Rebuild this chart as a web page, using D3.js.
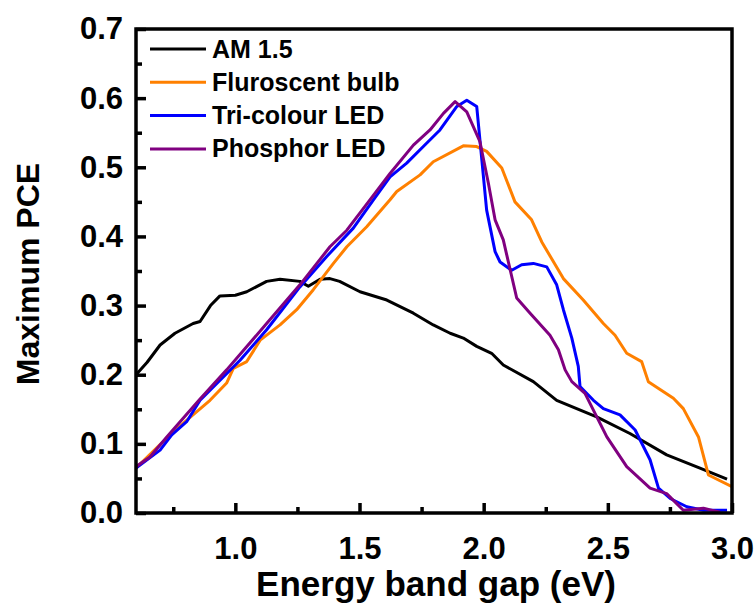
<!DOCTYPE html>
<html>
<head>
<meta charset="utf-8">
<script src="https://cdn.jsdelivr.net/npm/d3@7/dist/d3.min.js"></script>
<style>
  html, body { margin: 0; padding: 0; background: #fff; }
  svg { display: block; }
  text { font-family: "Liberation Sans", Arial, sans-serif; font-weight: bold; fill: #000; }
</style>
</head>
<body>
<svg id="chart" width="756" height="605"></svg>
<script>
// ---- Data ----
const seriesNames = ["AM 1.5", "Fluroscent bulb", "Tri-colour LED", "Phosphor LED"];
const seriesColors = ["#000000", "#FF8000", "#0000FF", "#800080"];

const am15 = [
  [0.60, 0.200], [0.645, 0.218], [0.697, 0.243], [0.757, 0.260], [0.830, 0.274], [0.858, 0.277],
  [0.90, 0.300], [0.938, 0.314], [1.00, 0.315], [1.046, 0.320], [1.126, 0.335], [1.18, 0.338],
  [1.26, 0.335], [1.294, 0.328], [1.341, 0.338], [1.381, 0.339], [1.42, 0.335], [1.502, 0.320],
  [1.61, 0.308], [1.717, 0.289], [1.797, 0.272], [1.865, 0.260], [1.918, 0.253], [1.972, 0.241],
  [2.032, 0.231], [2.079, 0.214], [2.20, 0.190], [2.294, 0.163], [2.455, 0.139], [2.589, 0.115],
  [2.737, 0.084], [2.871, 0.065], [2.98, 0.049]
];
const fluorescent = [
  [0.60, 0.065], [0.70, 0.100], [0.80, 0.133], [0.898, 0.163], [0.965, 0.188], [0.992, 0.209],
  [1.046, 0.219], [1.10, 0.250], [1.18, 0.272], [1.247, 0.294], [1.314, 0.323], [1.395, 0.361],
  [1.449, 0.385], [1.529, 0.414], [1.623, 0.453], [1.65, 0.465], [1.744, 0.489], [1.797, 0.508],
  [1.918, 0.531], [1.972, 0.530], [2.012, 0.523], [2.073, 0.499], [2.126, 0.450], [2.193, 0.424],
  [2.234, 0.392], [2.321, 0.339], [2.401, 0.308], [2.482, 0.274], [2.529, 0.257], [2.576, 0.231],
  [2.636, 0.219], [2.663, 0.190], [2.764, 0.166], [2.804, 0.151], [2.865, 0.110], [2.905, 0.055],
  [3.00, 0.038]
];
const tricolour = [
  [0.60, 0.065], [0.697, 0.091], [0.744, 0.113], [0.804, 0.132], [0.858, 0.163], [1.019, 0.221],
  [1.126, 0.265], [1.26, 0.327], [1.368, 0.371], [1.475, 0.412], [1.556, 0.453], [1.623, 0.486],
  [1.69, 0.506], [1.757, 0.530], [1.824, 0.554], [1.892, 0.588], [1.932, 0.597], [1.972, 0.588],
  [2.012, 0.438], [2.046, 0.378], [2.066, 0.363], [2.113, 0.351], [2.153, 0.359], [2.20, 0.361],
  [2.254, 0.356], [2.294, 0.330], [2.321, 0.294], [2.355, 0.253], [2.381, 0.212], [2.388, 0.183],
  [2.442, 0.163], [2.482, 0.151], [2.549, 0.142], [2.61, 0.120], [2.67, 0.077], [2.704, 0.036],
  [2.751, 0.021], [2.818, 0.009], [2.885, 0.004], [2.98, 0.004]
];
const phosphor = [
  [0.60, 0.067], [0.656, 0.081], [0.724, 0.110], [0.79, 0.137], [0.858, 0.165], [0.965, 0.207],
  [1.126, 0.274], [1.26, 0.330], [1.381, 0.385], [1.449, 0.409], [1.542, 0.453], [1.623, 0.491],
  [1.717, 0.532], [1.784, 0.554], [1.838, 0.578], [1.885, 0.595], [1.932, 0.580], [1.985, 0.537],
  [2.019, 0.477], [2.046, 0.424], [2.079, 0.395], [2.113, 0.342], [2.133, 0.311], [2.187, 0.289],
  [2.267, 0.257], [2.301, 0.236], [2.328, 0.207], [2.355, 0.190], [2.408, 0.173], [2.496, 0.110],
  [2.576, 0.067], [2.67, 0.036], [2.737, 0.028], [2.804, 0.004], [2.885, 0.007], [2.952, 0.001]
];
const allSeries = [am15, fluorescent, tricolour, phosphor];

const xTicks = [1.0, 1.5, 2.0, 2.5, 3.0];
const xMinorTicks = [0.75, 1.25, 1.75, 2.25, 2.75];
const yTicks = [0.0, 0.1, 0.2, 0.3, 0.4, 0.5, 0.6, 0.7];
const yMinorTicks = [0.05, 0.15, 0.25, 0.35, 0.45, 0.55, 0.65];

// ---- Layout ----
const svg = d3.select("#chart");
const pLeft = 136, pRight = 732, pTop = 29, pBottom = 513;

const x = d3.scaleLinear().domain([0.6, 3.0]).range([pLeft, pRight]);
const y = d3.scaleLinear().domain([0.0, 0.7]).range([pBottom, pTop]);

// clip
svg.append("defs").append("clipPath").attr("id", "clip")
  .append("rect").attr("x", pLeft).attr("y", pTop).attr("width", pRight - pLeft).attr("height", pBottom - pTop);

// series lines
const line = d3.line().x(d => x(d[0])).y(d => y(d[1]));
const plot = svg.append("g").attr("clip-path", "url(#clip)");
allSeries.forEach((s, i) => {
  plot.append("path").datum(s)
    .attr("d", line)
    .attr("fill", "none")
    .attr("stroke", seriesColors[i])
    .attr("stroke-width", 3)
    .attr("stroke-linejoin", "round");
});

// frame
svg.append("rect")
  .attr("x", pLeft).attr("y", pTop).attr("width", pRight - pLeft).attr("height", pBottom - pTop)
  .attr("fill", "none").attr("stroke", "#000").attr("stroke-width", 3.5);

// x axis (inward ticks)
const xAxis = svg.append("g").attr("transform", `translate(0,${pBottom})`)
  .call(d3.axisBottom(x).tickValues(xTicks).tickSize(-10).tickPadding(24).tickFormat(d3.format(".1f")));
xAxis.select(".domain").remove();
xAxis.selectAll(".tick line").attr("stroke", "#000").attr("stroke-width", 3.5);
xAxis.selectAll(".tick text").attr("font-size", 31).attr("font-family", "Liberation Sans, Arial, sans-serif").attr("font-weight", "bold").attr("fill", "#000");
const xMinor = svg.append("g").attr("transform", `translate(0,${pBottom})`)
  .call(d3.axisBottom(x).tickValues(xMinorTicks).tickSize(-6).tickFormat(""));
xMinor.select(".domain").remove();
xMinor.selectAll(".tick line").attr("stroke", "#000").attr("stroke-width", 3.5);

// y axis
const yAxis = svg.append("g").attr("transform", `translate(${pLeft},0)`)
  .call(d3.axisLeft(y).tickValues(yTicks).tickSize(-10).tickPadding(13).tickFormat(d3.format(".1f")));
yAxis.select(".domain").remove();
yAxis.selectAll(".tick line").attr("stroke", "#000").attr("stroke-width", 3.5);
yAxis.selectAll(".tick text").attr("font-size", 31).attr("font-family", "Liberation Sans, Arial, sans-serif").attr("font-weight", "bold").attr("fill", "#000");
const yMinor = svg.append("g").attr("transform", `translate(${pLeft},0)`)
  .call(d3.axisLeft(y).tickValues(yMinorTicks).tickSize(-6).tickFormat(""));
yMinor.select(".domain").remove();
yMinor.selectAll(".tick line").attr("stroke", "#000").attr("stroke-width", 3.5);

// axis titles
svg.append("text")
  .attr("x", (pLeft + pRight) / 2 + 2).attr("y", 596)
  .attr("text-anchor", "middle").attr("font-size", 35)
  .text("Energy band gap (eV)");
svg.append("text")
  .attr("transform", `translate(39,${(pTop + pBottom) / 2 + 3}) rotate(-90)`)
  .attr("text-anchor", "middle").attr("font-size", 32)
  .text("Maximum PCE");

// legend
const legend = svg.append("g");
seriesNames.forEach((name, i) => {
  const ly = 49 + i * 33.3;
  legend.append("line").attr("x1", 150).attr("x2", 206).attr("y1", ly).attr("y2", ly)
    .attr("stroke", seriesColors[i]).attr("stroke-width", 3);
  legend.append("text").attr("x", 212).attr("y", ly + 8.5).attr("font-size", 25).text(name);
});
</script>
</body>
</html>
